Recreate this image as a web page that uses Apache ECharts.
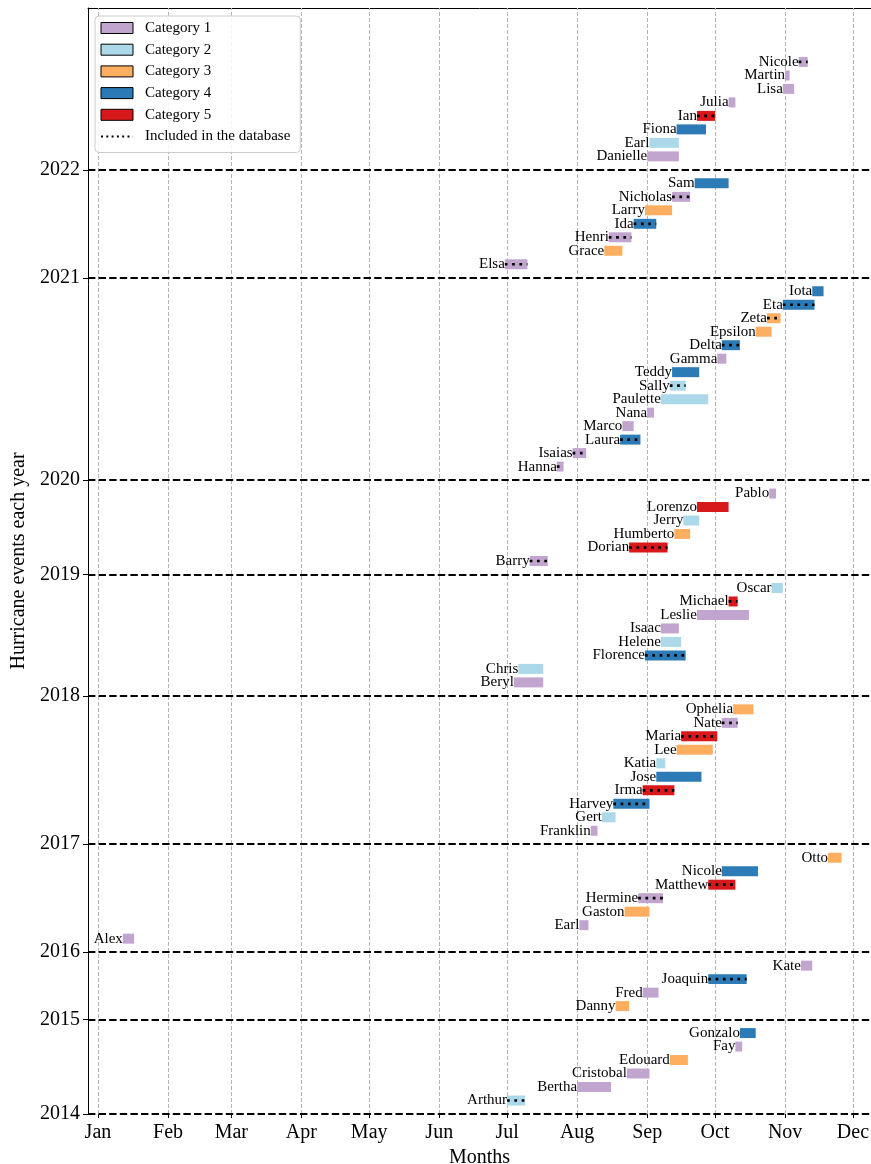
<!DOCTYPE html>
<html>
<head>
<meta charset="utf-8">
<script src="https://cdn.jsdelivr.net/npm/echarts@6/dist/echarts.min.js"></script>
<style>
  html, body { margin: 0; padding: 0; background: #fff; }
  #chart { width: 871px; height: 1164px; }
</style>
</head>
<body>
<div id="chart"></div>
<script>
// Month axis: labels and the day-of-year (Jan 1 = 0) where each month starts
const monthLabels = ['Jan', 'Feb', 'Mar', 'Apr', 'May', 'Jun', 'Jul', 'Aug', 'Sep', 'Oct', 'Nov', 'Dec'];
const monthStartDays = [0, 31, 59, 90, 120, 151, 181, 212, 243, 273, 304, 334];

// Atlantic hurricane seasons shown
const seasonYears = [2014, 2015, 2016, 2017, 2018, 2019, 2020, 2021, 2022];

// Storms, in naming order within each season
const stormNames = [
  'Arthur', 'Bertha', 'Cristobal', 'Edouard', 'Fay', 'Gonzalo',
  'Danny', 'Fred', 'Joaquin', 'Kate',
  'Alex', 'Earl', 'Gaston', 'Hermine', 'Matthew', 'Nicole', 'Otto',
  'Franklin', 'Gert', 'Harvey', 'Irma', 'Jose', 'Katia', 'Lee', 'Maria', 'Nate', 'Ophelia',
  'Beryl', 'Chris', 'Florence', 'Helene', 'Isaac', 'Leslie', 'Michael', 'Oscar',
  'Barry', 'Dorian', 'Humberto', 'Jerry', 'Lorenzo', 'Pablo',
  'Hanna', 'Isaias', 'Laura', 'Marco', 'Nana', 'Paulette', 'Sally', 'Teddy', 'Gamma', 'Delta', 'Epsilon', 'Zeta', 'Eta', 'Iota',
  'Elsa', 'Grace', 'Henri', 'Ida', 'Larry', 'Nicholas', 'Sam',
  'Danielle', 'Earl', 'Fiona', 'Ian', 'Julia', 'Lisa', 'Martin', 'Nicole'
];
const stormYears = [
  2014, 2014, 2014, 2014, 2014, 2014,
  2015, 2015, 2015, 2015,
  2016, 2016, 2016, 2016, 2016, 2016, 2016,
  2017, 2017, 2017, 2017, 2017, 2017, 2017, 2017, 2017, 2017,
  2018, 2018, 2018, 2018, 2018, 2018, 2018, 2018,
  2019, 2019, 2019, 2019, 2019, 2019,
  2020, 2020, 2020, 2020, 2020, 2020, 2020, 2020, 2020, 2020, 2020, 2020, 2020, 2020,
  2021, 2021, 2021, 2021, 2021, 2021, 2021,
  2022, 2022, 2022, 2022, 2022, 2022, 2022, 2022
];
const stormStarts = [
  '07-01', '08-01', '08-23', '09-11', '10-10', '10-12',
  '08-18', '08-30', '09-28', '11-08',
  '01-12', '08-02', '08-22', '08-28', '09-28', '10-04', '11-20',
  '08-07', '08-12', '08-17', '08-30', '09-05', '09-05', '09-14', '09-16', '10-04', '10-09',
  '07-04', '07-06', '08-31', '09-07', '09-07', '09-23', '10-07', '10-26',
  '07-11', '08-24', '09-13', '09-17', '09-23', '10-25',
  '07-23', '07-30', '08-20', '08-21', '09-01', '09-07', '09-11', '09-12', '10-02', '10-04', '10-19', '10-24', '10-31', '11-13',
  '06-30', '08-13', '08-15', '08-26', '08-31', '09-12', '09-22',
  '09-01', '09-02', '09-14', '09-23', '10-07', '10-31', '11-01', '11-07'
];
const stormEnds = [
  '07-09', '08-16', '09-02', '09-19', '10-13', '10-19',
  '08-24', '09-06', '10-15', '11-13',
  '01-17', '08-06', '09-02', '09-08', '10-10', '10-20', '11-26',
  '08-10', '08-18', '09-02', '09-13', '09-25', '09-09', '09-30', '10-02', '10-11', '10-18',
  '07-17', '07-17', '09-18', '09-16', '09-15', '10-16', '10-11', '10-31',
  '07-19', '09-10', '09-20', '09-24', '10-07', '10-28',
  '07-26', '08-05', '08-29', '08-26', '09-04', '09-28', '09-18', '09-24', '10-06', '10-12', '10-26', '10-30', '11-14', '11-18',
  '07-10', '08-21', '08-25', '09-05', '09-12', '09-20', '10-07',
  '09-15', '09-15', '09-27', '10-01', '10-10', '11-05', '11-03', '11-11'
];
const stormCategories = [
  2, 1, 1, 3, 1, 4,
  3, 1, 4, 1,
  1, 1, 3, 1, 5, 4, 3,
  1, 2, 4, 5, 4, 2, 3, 5, 1, 3,
  1, 2, 4, 2, 1, 1, 5, 2,
  1, 5, 3, 2, 5, 1,
  1, 1, 4, 1, 1, 2, 2, 4, 1, 4, 3, 3, 4, 4,
  1, 3, 1, 4, 3, 1, 4,
  1, 2, 4, 5, 1, 1, 1, 1
];
const inDatabase = [
  true, false, false, false, false, false,
  false, false, true, false,
  false, false, false, true, true, false, false,
  false, false, true, true, false, false, false, true, true, false,
  false, false, true, false, false, false, true, false,
  true, true, false, false, false, false,
  true, true, true, false, false, false, true, false, false, true, false, true, true, false,
  true, false, true, true, false, true, false,
  false, false, false, true, false, false, false, true
];

const categoryNames = ['Category 1', 'Category 2', 'Category 3', 'Category 4', 'Category 5'];
const categoryColors = ['#c2a5cf', '#abd9e9', '#fdae61', '#2c7bb6', '#d7191c'];
const databaseLabel = 'Included in the database';

const SERIF = '"Liberation Serif", "Times New Roman", serif';

function dayOfYear(mmdd) {
  const parts = mmdd.split('-').map(Number);
  return monthStartDays[parts[0] - 1] + parts[1] - 1;
}

// Each season takes one row per storm plus one row for its boundary line
const yearRows = [];
const stormRows = [];
let row = 0;
seasonYears.forEach(function (yr) {
  yearRows.push(row);
  stormYears.forEach(function (sy, i) {
    if (sy === yr) { row += 1; stormRows[i] = row; }
  });
  row += 1;
});

function renderStorm(params, api) {
  const idx = api.value(3);
  const start = api.coord([api.value(0), api.value(2)]);
  const end = api.coord([api.value(1), api.value(2)]);
  const h = api.size([0, 1])[1] * 0.74;
  const children = [{
    type: 'rect',
    shape: { x: start[0], y: start[1] - h / 2, width: end[0] - start[0], height: h },
    style: { fill: api.visual('color') }
  }];
  if (inDatabase[idx]) {
    children.push({
      type: 'line',
      shape: { x1: start[0], y1: start[1], x2: end[0], y2: end[1] },
      style: { stroke: '#000', lineWidth: 2.7, lineDash: [2.7, 4.6], lineCap: 'butt' }
    });
  }
  children.push({
    type: 'text',
    x: start[0],
    y: start[1],
    style: {
      text: stormNames[idx], align: 'right', verticalAlign: 'middle',
      fontSize: 15, fontFamily: SERIF, fill: '#000'
    }
  });
  return { type: 'group', children: children };
}

const stormSeries = categoryNames.map(function (name, c) {
  const data = [];
  stormNames.forEach(function (n, i) {
    if (stormCategories[i] === c + 1) {
      data.push([dayOfYear(stormStarts[i]), dayOfYear(stormEnds[i]), stormRows[i], i]);
    }
  });
  return {
    type: 'custom',
    name: name,
    renderItem: renderStorm,
    itemStyle: { color: categoryColors[c] },
    encode: { x: [0, 1], y: 2 },
    data: data,
    z: 3
  };
});

// Month grid lines and season boundary lines, kept under the bars
const guideSeries = {
  type: 'line',
  name: 'guides',
  data: [],
  silent: true,
  z: 1,
  markLine: {
    silent: true,
    z: 1,
    symbol: 'none',
    animation: false,
    label: { show: false },
    data: monthStartDays.map(function (d) {
      return { xAxis: d, lineStyle: { color: '#b5b5b5', width: 1, type: [4, 2] } };
    }).concat(yearRows.map(function (r) {
      return { yAxis: r, lineStyle: { color: '#000', width: 2, type: [7.4, 3.2] } };
    }))
  }
};

const databaseSeries = {
  type: 'line',
  name: databaseLabel,
  data: [],
  symbol: 'none',
  itemStyle: { color: 'rgba(0,0,0,0)', borderColor: 'rgba(0,0,0,0)' },
  lineStyle: { color: '#000', width: 2, type: [2, 3.3] }
};

const chart = echarts.init(document.getElementById('chart'), null, { renderer: 'canvas' });
chart.setOption({
  animation: false,
  backgroundColor: '#fff',
  grid: { left: 88, right: 0, top: 8, bottom: 50, containLabel: false, outerBoundsMode: 'none' },
  legend: {
    orient: 'vertical',
    left: 95,
    top: 16,
    padding: [4.5, 10, 8.5, 5],
    itemWidth: 32,
    itemHeight: 11,
    itemGap: 6.7,
    backgroundColor: 'rgba(255,255,255,0.85)',
    borderColor: '#cccccc',
    borderWidth: 1,
    borderRadius: 4,
    selectedMode: false,
    textStyle: { fontSize: 15, fontFamily: SERIF, color: '#000', padding: [0, 0, 0, 7] },
    data: categoryNames.map(function (n) {
      return { name: n, icon: 'rect', itemStyle: { borderColor: '#000', borderWidth: 1 } };
    }).concat([{ name: databaseLabel, itemStyle: { color: 'rgba(0,0,0,0)', borderWidth: 0, opacity: 0 } }])
  },
  xAxis: [{
    type: 'value',
    min: -4.4,
    max: 342,
    position: 'bottom',
    name: 'Months',
    nameLocation: 'middle',
    nameGap: 30,
    nameTextStyle: { fontSize: 20, fontFamily: SERIF, color: '#000' },
    axisLine: { show: false },
    axisTick: { show: true, inside: false, length: 4, customValues: monthStartDays, lineStyle: { color: '#000' } },
    axisLabel: {
      customValues: monthStartDays,
      margin: 9,
      fontSize: 20,
      fontFamily: SERIF,
      color: '#000',
      formatter: function (v) { return monthLabels[monthStartDays.indexOf(v)]; }
    },
    splitLine: { show: false }
  }, {
    type: 'value',
    min: -4.4,
    max: 342,
    position: 'top',
    axisLine: { show: true, onZero: false, lineStyle: { color: '#000', width: 1 } },
    axisTick: { show: false },
    axisLabel: { show: false },
    splitLine: { show: false }
  }],
  yAxis: {
    type: 'value',
    min: 0,
    max: 82,
    name: 'Hurricane events each year',
    nameLocation: 'middle',
    nameGap: 55,
    nameTextStyle: { fontSize: 20, fontFamily: SERIF, color: '#000' },
    axisLine: { show: true, onZero: false, lineStyle: { color: '#000', width: 1 } },
    axisTick: { show: true, inside: false, length: 5, customValues: yearRows, lineStyle: { color: '#000' } },
    axisLabel: {
      customValues: yearRows,
      margin: 8,
      fontSize: 20,
      fontFamily: SERIF,
      color: '#000',
      formatter: function (v) { return String(seasonYears[yearRows.indexOf(v)]); }
    },
    splitLine: { show: false }
  },
  series: [guideSeries].concat(stormSeries).concat([databaseSeries])
});
</script>
</body>
</html>
